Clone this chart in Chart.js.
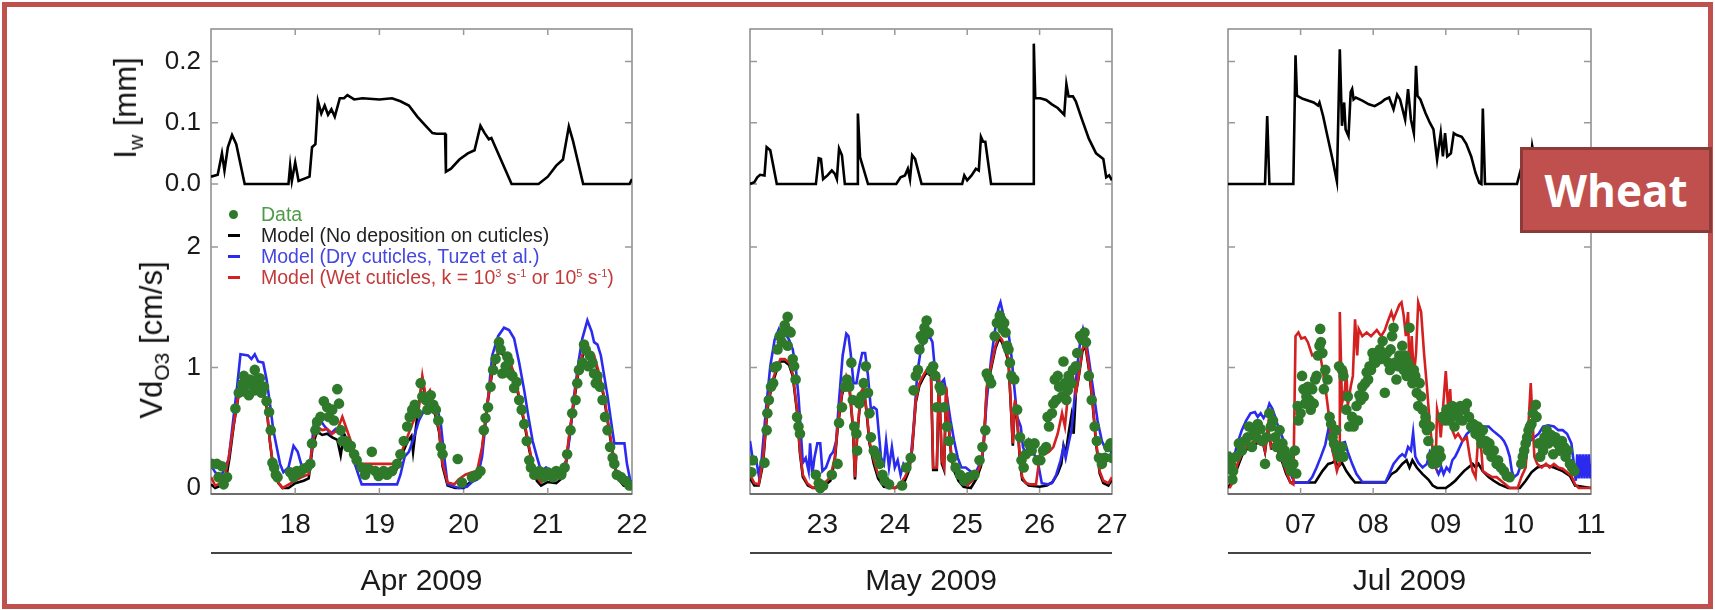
<!DOCTYPE html>
<html>
<head>
<meta charset="utf-8">
<title>Wheat - leaf water and ozone deposition velocity</title>
<script src="https://cdn.jsdelivr.net/npm/chart.js@4.4.1/dist/chart.umd.min.js"></script>
<style>
  body { margin: 0; background: #fff; }
  #wrap { position: relative; width: 1715px; height: 610px; overflow: hidden; font-family: 'Liberation Sans', Arial, sans-serif; }
  #wrap canvas { position: absolute; left: 0; top: 0; }
  .frame { position: absolute; left: 2px; top: 2px; width: 1711px; height: 607px; border: 5px solid #c0504d; box-sizing: border-box; }
  .ytitle { position: absolute; transform: translate(-50%, -50%) rotate(-90deg); white-space: nowrap; font-size: 31px; color: #111; }
  .ytitle sub { font-size: 0.68em; }
  .legend { position: absolute; left: 224px; top: 204px; font-size: 19.5px; line-height: 21px; }
  .legend div { position: relative; height: 21px; padding-left: 37px; white-space: nowrap; }
  .legend i { position: absolute; left: 4px; top: 9px; width: 12px; height: 3px; }
  .legend i.dot { left: 5px; top: 6px; width: 9px; height: 9px; border-radius: 50%; }
  .legend sup { font-size: 11px; line-height: 0; }
  .tag { position: absolute; left: 1520px; top: 147px; width: 192px; height: 86px; box-sizing: border-box;
         background: #c0504d; border: 3px solid #8c3a38; color: #fff; font: bold 44px 'Open Sans', sans-serif;
         display: flex; align-items: center; justify-content: center; }
</style>
</head>
<body>
<div id="wrap">
  <div class="frame"></div>
  <div class="ytitle" style="left:128px; top:108px;">I<sub>w</sub> [mm]</div>
  <div class="ytitle" style="left:154px; top:340px;">Vd<sub>O3</sub> [cm/s]</div>
  <div class="legend">
    <div style="color:#4f9a48"><i class="dot" style="background:#2f7a2a"></i>Data</div>
    <div style="color:#222"><i style="background:#000"></i>Model (No deposition on cuticles)</div>
    <div style="color:#4646e0"><i style="background:#2b2bf0"></i>Model (Dry cuticles, Tuzet et al.)</div>
    <div style="color:#c43a3a"><i style="background:#d42020"></i>Model (Wet cuticles, k = 10<sup>3</sup> s<sup>-1</sup> or 10<sup>5</sup> s<sup>-1</sup>)</div>
  </div>
  <div class="tag">Wheat</div>
</div>
<script>
// ---- leaf water film I_w [mm] and ozone deposition velocity [cm/s], [day, value] ----

const aprIw = [[17.0,0.012],[17.08,0.015],[17.13,0.05],[17.16,0.022],[17.2,0.06],[17.25,0.08],[17.3,0.065],[17.4,0],[17.92,0],[17.94,0.03],[17.96,0.005],[18.0,0.035],[18.04,0.005],[18.17,0.012],[18.2,0.06],[18.24,0.065],[18.27,0.135],[18.31,0.115],[18.35,0.128],[18.39,0.113],[18.43,0.122],[18.47,0.11],[18.53,0.14],[18.58,0.14],[18.62,0.145],[18.7,0.138],[18.8,0.14],[19.0,0.138],[19.15,0.14],[19.25,0.135],[19.35,0.128],[19.45,0.11],[19.55,0.095],[19.63,0.083],[19.68,0.082],[19.78,0.082],[19.79,0.02],[19.85,0.025],[19.95,0.04],[20.05,0.05],[20.13,0.055],[20.2,0.095],[20.25,0.083],[20.3,0.073],[20.33,0.075],[20.57,0],[20.89,0],[21.0,0.012],[21.1,0.03],[21.18,0.04],[21.25,0.094],[21.3,0.07],[21.42,0],[21.97,0],[22.0,0.008]];

const aprBlack = [[17.0,0.03],[17.05,0],[17.12,0.02],[17.18,0.08],[17.22,0.25],[17.27,0.52],[17.33,0.78],[17.39,0.86],[17.45,0.85],[17.5,0.89],[17.56,0.83],[17.62,0.79],[17.66,0.67],[17.7,0.38],[17.74,0.16],[17.8,0.04],[17.85,0],[17.92,0],[18.0,0.04],[18.1,0.06],[18.16,0.08],[18.21,0.36],[18.26,0.47],[18.32,0.44],[18.38,0.45],[18.44,0.42],[18.5,0.4],[18.54,0.27],[18.58,0.45],[18.64,0.36],[18.72,0.22],[18.76,0.15],[19.2,0.15],[19.27,0.28],[19.33,0.38],[19.38,0.43],[19.4,0.3],[19.45,0.6],[19.51,0.9],[19.55,0.74],[19.6,0.79],[19.65,0.65],[19.71,0.46],[19.75,0.18],[19.81,0.02],[19.9,0],[20.0,0],[20.08,0.05],[20.16,0.08],[20.22,0.32],[20.28,0.68],[20.34,0.96],[20.42,1.13],[20.48,1.1],[20.54,1.05],[20.6,0.93],[20.66,0.74],[20.72,0.54],[20.77,0.35],[20.82,0.18],[20.87,0.06],[20.92,0.02],[21.0,0.05],[21.1,0.04],[21.2,0.1],[21.25,0.4],[21.31,0.71],[21.37,0.99],[21.43,1.13],[21.49,1.1],[21.55,1.08],[21.61,0.93],[21.67,0.74],[21.72,0.51],[21.77,0.29],[21.82,0.09],[21.9,0.02],[22.0,0.01]];

const aprBlue = [[17.0,0.19],[17.05,0.13],[17.11,0.09],[17.17,0.17],[17.21,0.24],[17.25,0.48],[17.31,0.84],[17.35,1.11],[17.44,1.1],[17.48,1.07],[17.52,1.11],[17.56,1.05],[17.62,1.04],[17.66,0.9],[17.7,0.7],[17.74,0.48],[17.78,0.34],[17.82,0.2],[17.86,0.13],[17.92,0.17],[17.98,0.35],[18.03,0.3],[18.07,0.2],[18.12,0.17],[18.18,0.2],[18.22,0.53],[18.27,0.59],[18.34,0.52],[18.42,0.45],[18.48,0.49],[18.54,0.45],[18.6,0.39],[18.68,0.26],[18.75,0.11],[18.79,0.03],[19.21,0.03],[19.25,0.11],[19.3,0.26],[19.35,0.3],[19.41,0.42],[19.47,0.56],[19.55,0.67],[19.61,0.72],[19.68,0.69],[19.73,0.53],[19.77,0.26],[19.81,0.03],[19.94,0],[20.04,0.01],[20.1,0.05],[20.16,0.07],[20.22,0.26],[20.28,0.67],[20.34,1.1],[20.41,1.26],[20.48,1.33],[20.54,1.31],[20.6,1.24],[20.66,1.04],[20.72,0.81],[20.77,0.59],[20.82,0.39],[20.87,0.26],[20.92,0.14],[20.98,0.17],[21.04,0.13],[21.1,0.16],[21.16,0.14],[21.22,0.23],[21.26,0.42],[21.31,0.76],[21.37,1.07],[21.41,1.24],[21.47,1.39],[21.52,1.3],[21.55,1.21],[21.59,1.19],[21.63,1.1],[21.67,0.93],[21.71,0.76],[21.75,0.56],[21.79,0.37],[21.91,0.37],[21.94,0.2],[21.98,0.06],[22.0,0.05]];

const aprRed = [[17.0,0.09],[17.05,0.02],[17.11,0.04],[17.17,0.11],[17.21,0.25],[17.27,0.53],[17.33,0.79],[17.39,0.87],[17.45,0.86],[17.5,0.9],[17.56,0.84],[17.62,0.8],[17.66,0.68],[17.7,0.39],[17.74,0.17],[17.8,0.045],[17.85,0],[17.9,0.02],[17.96,0.045],[18.02,0.07],[18.08,0.09],[18.16,0.115],[18.21,0.39],[18.26,0.51],[18.32,0.48],[18.38,0.49],[18.44,0.45],[18.5,0.48],[18.56,0.59],[18.6,0.51],[18.66,0.39],[18.72,0.26],[18.76,0.2],[19.21,0.2],[19.27,0.31],[19.33,0.42],[19.39,0.53],[19.47,0.67],[19.51,0.93],[19.55,0.76],[19.6,0.81],[19.65,0.67],[19.71,0.48],[19.75,0.2],[19.81,0.045],[19.89,0.03],[19.94,0.07],[20.02,0.11],[20.1,0.13],[20.16,0.14],[20.22,0.34],[20.28,0.7],[20.34,0.98],[20.42,1.15],[20.48,1.12],[20.54,1.07],[20.6,0.95],[20.66,0.76],[20.72,0.56],[20.77,0.37],[20.82,0.2],[20.87,0.09],[20.92,0.045],[20.98,0.09],[21.06,0.06],[21.14,0.09],[21.2,0.14],[21.25,0.42],[21.31,0.73],[21.37,1.01],[21.43,1.15],[21.49,1.12],[21.55,1.1],[21.61,0.95],[21.67,0.76],[21.72,0.53],[21.77,0.31],[21.82,0.11],[21.89,0.045],[21.95,0.02],[22.0,0.03]];

const aprDots = [[17.01,0.2],[17.07,0.2],[17.13,0.18],[17.09,0.09],[17.15,0.03],[17.19,0.09],[17.29,0.66],[17.33,0.79],[17.37,0.86],[17.39,0.93],[17.4,0.8],[17.42,0.87],[17.45,0.77],[17.46,0.9],[17.48,0.86],[17.52,0.98],[17.52,0.81],[17.54,0.9],[17.56,0.83],[17.58,0.91],[17.6,0.79],[17.63,0.84],[17.66,0.72],[17.69,0.63],[17.71,0.48],[17.73,0.21],[17.75,0.17],[17.77,0.11],[17.79,0.09],[17.94,0.13],[17.98,0.09],[18.02,0.14],[18.06,0.13],[18.1,0.16],[18.14,0.17],[18.18,0.2],[18.2,0.37],[18.24,0.48],[18.26,0.55],[18.3,0.59],[18.34,0.72],[18.38,0.67],[18.4,0.59],[18.44,0.65],[18.46,0.56],[18.5,0.82],[18.52,0.7],[18.54,0.48],[18.56,0.39],[18.6,0.39],[18.63,0.34],[18.66,0.35],[18.7,0.28],[18.73,0.23],[18.79,0.17],[18.83,0.11],[18.87,0.16],[18.91,0.3],[18.95,0.14],[18.99,0.1],[19.05,0.14],[19.09,0.11],[19.15,0.14],[19.21,0.2],[19.25,0.28],[19.29,0.39],[19.33,0.51],[19.36,0.59],[19.39,0.65],[19.42,0.69],[19.45,0.62],[19.49,0.87],[19.51,0.76],[19.55,0.73],[19.57,0.65],[19.61,0.77],[19.64,0.69],[19.67,0.65],[19.7,0.56],[19.73,0.34],[19.75,0.28],[19.93,0.24],[19.98,0.045],[20.1,0.09],[20.16,0.11],[20.2,0.14],[20.24,0.48],[20.26,0.58],[20.29,0.67],[20.32,0.84],[20.35,0.98],[20.38,1.07],[20.42,1.21],[20.44,1.15],[20.46,0.95],[20.5,1.01],[20.52,1.09],[20.54,1.05],[20.55,0.95],[20.58,0.93],[20.6,0.83],[20.63,0.88],[20.66,0.73],[20.69,0.65],[20.72,0.53],[20.75,0.39],[20.78,0.23],[20.8,0.17],[20.84,0.11],[20.9,0.14],[20.95,0.09],[21.0,0.13],[21.06,0.09],[21.1,0.14],[21.16,0.11],[21.2,0.17],[21.23,0.28],[21.27,0.48],[21.29,0.62],[21.33,0.73],[21.35,0.87],[21.37,0.98],[21.41,1.04],[21.43,1.19],[21.45,1.15],[21.48,1.01],[21.5,1.1],[21.53,1.04],[21.55,0.95],[21.57,0.87],[21.59,0.93],[21.62,0.84],[21.65,0.73],[21.68,0.59],[21.71,0.48],[21.74,0.34],[21.77,0.25],[21.79,0.2],[21.82,0.11],[21.87,0.09],[21.92,0.06],[21.97,0.02]];

const mayIw = [[22.0,0],[22.06,0.003],[22.1,0.011],[22.14,0.015],[22.2,0.014],[22.23,0.06],[22.28,0.055],[22.37,0],[22.91,0],[22.95,0.042],[22.98,0.041],[23.01,0.008],[23.07,0.014],[23.13,0.022],[23.17,0.017],[23.2,0.008],[23.23,0.058],[23.27,0.047],[23.31,0],[23.48,0],[23.49,0.115],[23.52,0.044],[23.63,0],[24.02,0],[24.08,0.011],[24.14,0.014],[24.18,0.025],[24.21,0.008],[24.24,0.047],[24.28,0.041],[24.37,0],[24.93,0],[24.96,0.014],[25.0,0.006],[25.06,0.014],[25.12,0.025],[25.16,0.022],[25.19,0.077],[25.22,0.069],[25.25,0.069],[25.33,0],[25.91,0],[25.92,0.229],[25.94,0.14],[26.01,0.14],[26.09,0.137],[26.17,0.13],[26.25,0.124],[26.34,0.113],[26.37,0.163],[26.4,0.143],[26.46,0.143],[26.5,0.135],[26.58,0.107],[26.68,0.074],[26.78,0.05],[26.88,0.041],[26.92,0.011],[26.96,0.014],[27.0,0.006]];

const mayBlack = [[22.0,0.08],[22.06,0.02],[22.12,0.02],[22.18,0.2],[22.24,0.65],[22.3,0.85],[22.36,0.96],[22.42,1.05],[22.48,1.05],[22.54,1.02],[22.59,0.93],[22.65,0.63],[22.69,0.29],[22.73,0.09],[22.8,0.02],[22.87,0],[22.95,0],[23.03,0.02],[23.11,0.06],[23.17,0.22],[23.21,0.49],[23.27,0.77],[23.33,0.91],[23.37,0.85],[23.42,0.51],[23.45,0.07],[23.48,0.43],[23.53,0.77],[23.57,0.82],[23.61,0.63],[23.65,0.37],[23.71,0.2],[23.77,0.08],[23.85,0.01],[24.0,0],[24.08,0.02],[24.14,0.06],[24.2,0.15],[24.24,0.32],[24.29,0.71],[24.34,0.85],[24.39,0.91],[24.44,0.96],[24.5,0.93],[24.53,0.15],[24.58,0.15],[24.61,0.9],[24.65,0.2],[24.68,0.15],[24.71,0.82],[24.74,0.54],[24.78,0.26],[24.82,0.14],[24.88,0.06],[24.95,0.01],[25.05,0],[25.13,0.08],[25.19,0.18],[25.23,0.37],[25.27,0.82],[25.33,0.99],[25.39,1.16],[25.44,1.24],[25.48,1.21],[25.53,1.13],[25.57,1.05],[25.6,0.71],[25.63,0.35],[25.66,0.71],[25.69,0.57],[25.73,0.21],[25.76,0.07],[25.85,0.02],[26.0,0.01],[26.1,0.02],[26.18,0.05],[26.25,0.12],[26.3,0.2],[26.33,0.35],[26.36,0.28],[26.4,0.45],[26.44,0.6],[26.47,0.45],[26.5,0.78],[26.54,0.92],[26.59,1.13],[26.63,1.19],[26.68,0.99],[26.73,0.71],[26.78,0.37],[26.83,0.12],[26.88,0.04],[26.95,0.02],[27.0,0.07]];

const mayBlue = [[22.0,0.39],[22.04,0.23],[22.08,0.25],[22.12,0.11],[22.16,0.23],[22.22,0.65],[22.28,1.01],[22.34,1.23],[22.4,1.32],[22.44,1.26],[22.48,1.29],[22.54,1.23],[22.59,1.15],[22.63,1.01],[22.67,0.76],[22.71,0.39],[22.73,0.21],[22.77,0.25],[22.81,0.14],[22.83,0.37],[22.86,0.11],[22.89,0.25],[22.93,0.37],[22.97,0.37],[23.0,0.14],[23.05,0.17],[23.11,0.27],[23.15,0.3],[23.19,0.39],[23.23,0.73],[23.28,1.1],[23.33,1.28],[23.36,1.26],[23.39,1.12],[23.43,0.87],[23.47,0.87],[23.51,1.01],[23.55,1.12],[23.59,1.12],[23.63,0.93],[23.67,0.65],[23.71,0.67],[23.75,0.65],[23.78,0.45],[23.81,0.25],[23.85,0.2],[23.88,0.39],[23.92,0.17],[23.96,0.34],[24.0,0.17],[24.04,0.23],[24.08,0.11],[24.12,0.2],[24.16,0.17],[24.22,0.25],[24.26,0.51],[24.31,0.95],[24.36,1.15],[24.42,1.23],[24.48,1.26],[24.52,1.21],[24.55,1.01],[24.59,0.87],[24.64,0.87],[24.68,0.9],[24.72,0.76],[24.77,0.56],[24.82,0.39],[24.87,0.25],[24.92,0.17],[24.98,0.17],[25.04,0.14],[25.1,0.11],[25.15,0.17],[25.21,0.25],[25.27,0.73],[25.33,1.07],[25.38,1.29],[25.43,1.49],[25.46,1.54],[25.49,1.46],[25.53,1.32],[25.57,1.29],[25.61,1.1],[25.65,0.84],[25.69,0.59],[25.74,0.51],[25.77,0.34],[25.81,0.28],[25.85,0.39],[25.9,0.31],[25.95,0.25],[25.99,0.17],[26.03,0.04],[26.11,0.03],[26.17,0.04],[26.23,0.11],[26.29,0.23],[26.33,0.34],[26.36,0.25],[26.4,0.37],[26.44,0.48],[26.48,0.73],[26.52,1.01],[26.56,1.21],[26.6,1.32],[26.64,1.23],[26.68,1.07],[26.72,0.9],[26.76,0.73],[26.8,0.56],[26.86,0.39],[26.92,0.31],[26.98,0.34],[27.0,0.25]];

const mayRed = [[22.0,0.11],[22.06,0.04],[22.12,0.03],[22.18,0.23],[22.24,0.67],[22.3,0.87],[22.36,0.98],[22.42,1.07],[22.48,1.07],[22.54,1.04],[22.59,0.95],[22.65,0.65],[22.69,0.31],[22.73,0.11],[22.79,0.04],[22.87,0],[22.95,0.02],[23.03,0.04],[23.11,0.09],[23.17,0.25],[23.21,0.51],[23.27,0.79],[23.33,0.93],[23.37,0.87],[23.42,0.53],[23.45,0.09],[23.48,0.45],[23.53,0.79],[23.57,0.84],[23.61,0.65],[23.65,0.39],[23.71,0.23],[23.77,0.11],[23.85,0.04],[23.92,0],[24.0,0],[24.08,0.04],[24.14,0.09],[24.2,0.17],[24.24,0.34],[24.29,0.73],[24.34,0.87],[24.39,0.93],[24.44,0.98],[24.5,0.95],[24.53,0.17],[24.58,0.17],[24.61,0.93],[24.65,0.23],[24.68,0.17],[24.71,0.84],[24.74,0.56],[24.78,0.28],[24.82,0.17],[24.88,0.09],[24.94,0.04],[25.0,0.02],[25.07,0.06],[25.13,0.11],[25.19,0.2],[25.23,0.39],[25.27,0.84],[25.33,1.01],[25.39,1.18],[25.44,1.26],[25.48,1.23],[25.53,1.15],[25.57,1.07],[25.6,0.73],[25.63,0.37],[25.66,0.73],[25.69,0.59],[25.73,0.23],[25.76,0.09],[25.81,0.04],[25.87,0.03],[25.95,0.03],[26.01,0.3],[26.07,0.28],[26.13,0.3],[26.19,0.34],[26.25,0.45],[26.31,0.62],[26.35,0.51],[26.38,0.7],[26.42,0.87],[26.46,0.93],[26.5,0.79],[26.54,0.93],[26.59,1.15],[26.63,1.21],[26.68,1.01],[26.73,0.73],[26.78,0.39],[26.83,0.14],[26.88,0.06],[26.95,0.04],[27.0,0.09]];

const mayDots = [[22.02,0.13],[22.04,0.23],[22.2,0.21],[22.23,0.48],[22.24,0.62],[22.26,0.73],[22.29,0.84],[22.32,0.87],[22.34,1.0],[22.37,1.01],[22.38,1.15],[22.41,1.26],[22.44,1.21],[22.46,1.29],[22.48,1.35],[22.52,1.42],[22.54,1.3],[22.56,1.29],[22.52,1.18],[22.59,1.07],[22.61,1.01],[22.63,0.9],[22.65,0.59],[22.67,0.51],[22.69,0.45],[22.91,0.11],[22.95,0.04],[22.97,0],[23.01,0.02],[23.13,0.11],[23.21,0.2],[23.23,0.54],[23.27,0.67],[23.31,0.84],[23.34,0.9],[23.37,0.84],[23.4,1.04],[23.42,0.73],[23.44,0.51],[23.47,0.45],[23.48,0.31],[23.51,0.7],[23.54,0.76],[23.57,0.87],[23.6,1.01],[23.63,0.79],[23.65,0.62],[23.67,0.42],[23.71,0.31],[23.75,0.27],[23.79,0.2],[23.83,0.11],[23.86,0.06],[23.92,0.03],[24.1,0.02],[24.16,0.17],[24.22,0.25],[24.26,0.81],[24.29,0.93],[24.32,0.98],[24.34,1.15],[24.36,1.26],[24.39,1.23],[24.41,1.33],[24.44,1.39],[24.47,1.29],[24.5,0.98],[24.53,1.01],[24.56,0.93],[24.58,0.67],[24.62,0.84],[24.64,0.81],[24.68,0.67],[24.72,0.51],[24.75,0.39],[24.79,0.25],[24.84,0.17],[24.9,0.11],[24.96,0.06],[25.02,0.09],[25.1,0.11],[25.17,0.23],[25.21,0.34],[25.25,0.48],[25.27,0.95],[25.3,0.91],[25.33,0.87],[25.38,1.26],[25.41,1.37],[25.45,1.43],[25.47,1.4],[25.49,1.32],[25.51,1.37],[25.53,1.29],[25.55,1.18],[25.57,1.15],[25.59,1.04],[25.61,0.93],[25.65,0.9],[25.69,0.65],[25.73,0.42],[25.75,0.23],[25.78,0.17],[25.81,0.28],[25.85,0.37],[25.89,0.31],[25.93,0.37],[25.97,0.23],[26.01,0.23],[26.05,0.31],[26.09,0.34],[26.11,0.59],[26.13,0.51],[26.17,0.62],[26.19,0.7],[26.21,0.9],[26.23,0.73],[26.25,0.93],[26.27,0.84],[26.31,0.76],[26.33,1.05],[26.35,0.87],[26.37,0.73],[26.39,0.81],[26.4,0.93],[26.44,0.87],[26.46,0.98],[26.5,1.01],[26.52,1.12],[26.56,1.26],[26.59,1.23],[26.62,1.29],[26.64,1.21],[26.68,0.93],[26.72,0.73],[26.76,0.51],[26.79,0.39],[26.82,0.25],[26.86,0.2],[26.9,0.25],[26.95,0.34],[26.98,0.37],[27.0,0.25]];

const julIw = [[6.0,0],[6.51,0],[6.54,0.111],[6.57,0],[6.9,0],[6.93,0.21],[6.95,0.144],[7.03,0.139],[7.11,0.136],[7.18,0.133],[7.24,0.128],[7.26,0.133],[7.31,0.111],[7.37,0.078],[7.44,0.04],[7.5,0.004],[7.54,0.22],[7.57,0.095],[7.6,0.133],[7.62,0.089],[7.66,0.078],[7.69,0.15],[7.71,0.155],[7.73,0.138],[7.76,0.141],[7.85,0.136],[7.94,0.13],[8.02,0.127],[8.11,0.133],[8.16,0.138],[8.22,0.141],[8.28,0.122],[8.33,0.146],[8.37,0.138],[8.44,0.105],[8.48,0.155],[8.52,0.105],[8.56,0.083],[8.59,0.193],[8.61,0.144],[8.65,0.138],[8.72,0.116],[8.78,0.1],[8.83,0.089],[8.88,0.04],[8.93,0.083],[8.96,0.045],[8.99,0.083],[9.02,0.045],[9.07,0.05],[9.11,0.083],[9.15,0.08],[9.22,0.077],[9.28,0.066],[9.35,0.045],[9.41,0.018],[9.46,0.002],[9.49,0],[9.51,0.123],[9.54,0],[9.98,0],[10.02,0.018],[10.06,0.035],[10.11,0.013],[10.15,0.01],[10.19,0.062],[10.24,0.03],[10.3,0],[11.0,0]];

const julBlack = [[6.0,0],[6.05,0.05],[6.1,0.12],[6.15,0.2],[6.2,0.28],[6.3,0.35],[6.4,0.37],[6.47,0.4],[6.51,0.3],[6.55,0.48],[6.6,0.33],[6.65,0.35],[6.7,0.29],[6.75,0.21],[6.8,0.12],[6.86,0.045],[7.2,0.045],[7.3,0.14],[7.38,0.2],[7.44,0.21],[7.48,0.23],[7.51,0.17],[7.57,0.21],[7.63,0.14],[7.69,0.09],[7.75,0.045],[8.17,0.045],[8.25,0.115],[8.32,0.14],[8.4,0.2],[8.46,0.23],[8.5,0.17],[8.54,0.23],[8.6,0.17],[8.68,0.115],[8.76,0.07],[8.82,0.02],[8.88,0],[9.0,0],[9.07,0.03],[9.13,0.06],[9.19,0.1],[9.25,0.14],[9.31,0.17],[9.37,0.2],[9.41,0.17],[9.45,0.2],[9.51,0.14],[9.59,0.09],[9.66,0.06],[9.74,0.03],[9.86,0],[10.02,0],[10.1,0.06],[10.18,0.13],[10.26,0.17],[10.38,0.19],[10.49,0.17],[10.61,0.14],[10.71,0.1],[10.78,0.02],[11.0,0]];

const julBlue = [[6.02,0.115],[6.04,0.28],[6.08,0.25],[6.13,0.37],[6.19,0.48],[6.25,0.56],[6.31,0.62],[6.37,0.63],[6.41,0.59],[6.45,0.62],[6.49,0.58],[6.53,0.62],[6.57,0.7],[6.61,0.66],[6.65,0.59],[6.69,0.51],[6.73,0.45],[6.77,0.39],[6.8,0.31],[6.84,0.2],[6.88,0.09],[6.92,0.045],[7.1,0.045],[7.16,0.09],[7.22,0.17],[7.28,0.26],[7.34,0.36],[7.38,0.48],[7.44,0.31],[7.48,0.24],[7.51,0.31],[7.55,0.37],[7.61,0.38],[7.65,0.3],[7.71,0.2],[7.77,0.115],[7.85,0.05],[8.17,0.05],[8.22,0.115],[8.28,0.2],[8.32,0.23],[8.36,0.26],[8.4,0.28],[8.44,0.26],[8.48,0.34],[8.52,0.31],[8.55,0.46],[8.58,0.26],[8.62,0.21],[8.68,0.17],[8.74,0.2],[8.78,0.3],[8.82,0.26],[8.86,0.17],[8.9,0.115],[8.94,0.17],[8.97,0.115],[9.01,0.17],[9.05,0.14],[9.09,0.23],[9.13,0.26],[9.17,0.31],[9.23,0.39],[9.29,0.45],[9.35,0.48],[9.41,0.48],[9.47,0.51],[9.53,0.51],[9.59,0.51],[9.64,0.48],[9.7,0.45],[9.76,0.42],[9.8,0.39],[9.84,0.34],[9.88,0.26],[9.91,0.14],[9.94,0.09],[9.99,0.115],[10.04,0.2],[10.1,0.31],[10.16,0.39],[10.22,0.42],[10.28,0.45],[10.34,0.51],[10.41,0.52],[10.49,0.51],[10.55,0.48],[10.61,0.48],[10.67,0.45],[10.73,0.37],[10.77,0.17],[10.79,0.06],[10.81,0.28],[10.83,0.08],[10.85,0.28],[10.87,0.08],[10.89,0.28],[10.91,0.08],[10.93,0.28],[10.95,0.08],[10.97,0.28],[10.99,0.08],[11.0,0.2]];

const julRed = [[6.02,0],[6.05,0.03],[6.1,0.115],[6.13,0.2],[6.19,0.28],[6.25,0.34],[6.31,0.37],[6.37,0.39],[6.43,0.37],[6.47,0.42],[6.51,0.31],[6.55,0.51],[6.59,0.34],[6.63,0.37],[6.69,0.31],[6.75,0.23],[6.8,0.14],[6.86,0.045],[6.9,0.03],[6.93,1.26],[6.97,1.29],[7.01,1.24],[7.06,1.25],[7.1,1.21],[7.16,1.1],[7.22,1.11],[7.28,1.07],[7.34,0.84],[7.38,0.65],[7.44,0.31],[7.5,0.14],[7.53,0.2],[7.54,1.46],[7.57,0.7],[7.61,0.82],[7.63,0.98],[7.65,0.68],[7.69,0.84],[7.72,0.93],[7.75,1.4],[7.78,1.1],[7.8,1.32],[7.85,1.26],[7.91,1.29],[7.97,1.26],[8.05,1.31],[8.11,1.26],[8.16,1.31],[8.2,1.38],[8.25,1.46],[8.28,1.4],[8.32,1.46],[8.36,1.52],[8.39,1.54],[8.42,1.43],[8.45,1.26],[8.48,1.46],[8.5,0.9],[8.53,1.26],[8.56,0.93],[8.59,1.12],[8.62,1.54],[8.66,1.46],[8.7,1.12],[8.74,0.84],[8.78,0.53],[8.82,0.31],[8.86,0.2],[8.88,0.65],[8.91,0.56],[8.93,0.42],[8.96,0.65],[9.0,0.97],[9.03,0.68],[9.06,0.82],[9.09,0.48],[9.13,0.42],[9.17,0.45],[9.23,0.39],[9.29,0.42],[9.33,0.26],[9.37,0.14],[9.41,0.09],[9.45,0.45],[9.49,0.31],[9.51,0.14],[9.57,0.115],[9.64,0.09],[9.7,0.09],[9.76,0.06],[9.82,0.03],[9.88,0],[9.99,0],[10.04,0.09],[10.1,0.17],[10.13,0.42],[10.15,0.65],[10.17,0.87],[10.19,0.62],[10.22,0.26],[10.26,0.2],[10.32,0.17],[10.38,0.2],[10.43,0.17],[10.49,0.2],[10.55,0.17],[10.61,0.16],[10.67,0.13],[10.73,0.1],[10.78,0.03],[10.83,0],[11.0,0]];

const julDots = [[6.0,0.26],[6.04,0.2],[6.06,0.07],[6.07,0.14],[6.11,0.26],[6.15,0.37],[6.19,0.31],[6.23,0.39],[6.27,0.42],[6.29,0.51],[6.33,0.34],[6.35,0.48],[6.39,0.42],[6.41,0.53],[6.45,0.49],[6.47,0.39],[6.51,0.2],[6.53,0.42],[6.57,0.62],[6.59,0.51],[6.62,0.56],[6.65,0.42],[6.67,0.34],[6.71,0.48],[6.73,0.26],[6.75,0.37],[6.78,0.31],[6.82,0.2],[6.84,0.26],[6.87,0.14],[6.9,0.2],[6.92,0.31],[6.94,0.12],[6.96,0.68],[6.97,0.56],[7.0,0.62],[7.02,0.93],[7.04,0.82],[7.06,0.7],[7.08,0.76],[7.1,0.84],[7.12,0.73],[7.14,0.65],[7.16,0.82],[7.18,0.7],[7.2,0.9],[7.22,0.93],[7.24,1.1],[7.26,1.18],[7.27,1.32],[7.28,1.21],[7.3,1.12],[7.32,0.82],[7.34,0.98],[7.37,0.9],[7.4,0.59],[7.42,0.53],[7.44,0.42],[7.46,0.37],[7.49,0.48],[7.5,0.31],[7.53,0.26],[7.57,0.34],[7.59,0.26],[7.53,1.01],[7.57,0.98],[7.59,0.93],[7.63,0.65],[7.65,0.76],[7.67,0.51],[7.71,0.59],[7.73,0.51],[7.77,0.68],[7.79,0.56],[7.81,0.77],[7.83,0.73],[7.85,0.84],[7.87,0.76],[7.89,0.87],[7.91,0.96],[7.93,0.9],[7.95,1.01],[7.97,0.98],[7.99,1.12],[8.01,1.07],[8.03,1.04],[8.05,1.12],[8.07,1.1],[8.09,1.15],[8.11,1.07],[8.13,1.22],[8.15,1.1],[8.16,0.79],[8.19,1.12],[8.21,1.04],[8.23,0.98],[8.24,1.15],[8.26,1.26],[8.28,1.33],[8.3,1.04],[8.32,0.9],[8.34,1.01],[8.36,1.1],[8.38,1.04],[8.4,1.18],[8.42,0.98],[8.44,1.1],[8.46,0.93],[8.48,1.04],[8.5,1.33],[8.52,0.98],[8.54,0.87],[8.56,0.98],[8.58,0.93],[8.6,0.79],[8.62,0.68],[8.64,0.87],[8.66,0.76],[8.68,0.65],[8.7,0.53],[8.72,0.59],[8.74,0.48],[8.76,0.39],[8.78,0.51],[8.8,0.26],[8.82,0.2],[8.84,0.23],[8.86,0.31],[8.88,0.21],[8.91,0.31],[8.93,0.26],[8.95,0.59],[8.99,0.56],[9.01,0.65],[9.05,0.56],[9.07,0.62],[9.09,0.68],[9.12,0.51],[9.14,0.65],[9.17,0.59],[9.2,0.68],[9.23,0.56],[9.26,0.65],[9.29,0.7],[9.32,0.59],[9.35,0.51],[9.38,0.53],[9.41,0.45],[9.44,0.51],[9.47,0.42],[9.49,0.37],[9.51,0.48],[9.55,0.39],[9.58,0.31],[9.6,0.37],[9.63,0.26],[9.66,0.31],[9.7,0.2],[9.72,0.23],[9.76,0.17],[9.8,0.14],[9.84,0.1],[9.88,0.09],[10.04,0.2],[10.06,0.26],[10.08,0.31],[10.1,0.37],[10.12,0.42],[10.14,0.48],[10.16,0.51],[10.18,0.53],[10.2,0.62],[10.24,0.69],[10.25,0.59],[10.28,0.37],[10.3,0.26],[10.34,0.31],[10.36,0.42],[10.39,0.48],[10.41,0.37],[10.45,0.44],[10.48,0.28],[10.51,0.42],[10.54,0.37],[10.57,0.31],[10.6,0.39],[10.63,0.34],[10.65,0.26],[10.68,0.31],[10.71,0.2],[10.74,0.17],[10.77,0.14]];

const iwTicks = [0, 0.1, 0.2];
const vdTicks = [0, 1, 2];

// ---- layout ----
const W = 1715, H = 610;
const PLOT_TOP = 29, PLOT_BOTTOM = 494;
const IW_RANGE = [-0.5057, 0.2529];
const VD_RANGE = [-0.05, 3.809];
const FONT = "'Liberation Sans', Arial, sans-serif";
const YAXIS_W = 60;

const panels = [
  { left: 211, right: 632, min: 17, max: 22, month: 'Apr 2009', fmt: v => String(v), axes: true,
    iw: aprIw, black: aprBlack, blue: aprBlue, red: aprRed, dots: aprDots },
  { left: 690, right: 1112, min: 22, max: 27, month: 'May 2009', fmt: v => String(v), axes: false,
    iw: mayIw, black: mayBlack, blue: mayBlue, red: mayRed, dots: mayDots },
  { left: 1168, right: 1591, min: 6, max: 11, month: 'Jul 2009', fmt: v => String(v).padStart(2, '0'), axes: false,
    iw: julIw, black: julBlack, blue: julBlue, red: julRed, dots: julDots }
];

const pts = arr => arr.map(([x, y]) => ({ x, y }));

// both y axes share the full plot height, so an I_w value has a matching
// position on the Vd axis; the left axis carries both sets of labels
const iwToVd = v => VD_RANGE[0] + (v - IW_RANGE[0]) / (IW_RANGE[1] - IW_RANGE[0]) * (VD_RANGE[1] - VD_RANGE[0]);

// box around each panel, inward tick marks, and the rule above the month label
const panelFrame = {
  id: 'panelFrame',
  beforeDatasetsDraw(chart) {
    const { ctx, chartArea: a, scales } = chart;
    ctx.save();
    ctx.strokeStyle = '#8a8a8a';
    ctx.lineWidth = 1.5;
    ctx.strokeRect(a.left, a.top, a.right - a.left, a.bottom - a.top);
    ctx.strokeStyle = '#5a5a5a';
    ctx.beginPath();
    ctx.moveTo(a.left, a.bottom);
    ctx.lineTo(a.right, a.bottom);
    ctx.stroke();

    ctx.strokeStyle = '#999';
    ctx.lineWidth = 1.5;
    ctx.beginPath();
    for (let d = scales.x.min + 1; d < scales.x.max; d++) {
      const px = scales.x.getPixelForValue(d);
      ctx.moveTo(px, a.top); ctx.lineTo(px, a.top + 6);
      ctx.moveTo(px, a.bottom); ctx.lineTo(px, a.bottom - 6);
    }
    const yMarks = iwTicks.map(v => scales.yIw.getPixelForValue(v))
      .concat(vdTicks.slice(1).map(v => scales.yVd.getPixelForValue(v)));
    for (const py of yMarks) {
      ctx.moveTo(a.left, py); ctx.lineTo(a.left + 7, py);
      ctx.moveTo(a.right, py); ctx.lineTo(a.right - 7, py);
    }
    ctx.stroke();

    ctx.strokeStyle = '#444';
    ctx.lineWidth = 2;
    ctx.beginPath();
    ctx.moveTo(a.left, a.bottom + 59);
    ctx.lineTo(a.right, a.bottom + 59);
    ctx.stroke();
    ctx.restore();
  }
};

const wrap = document.getElementById('wrap');

function makePanel(p) {
  const cv = document.createElement('canvas');
  cv.width = W;
  cv.height = H;
  wrap.insertBefore(cv, wrap.querySelector('.ytitle'));

  const line = (data, color, axis, order) => ({
    data: pts(data), yAxisID: axis, borderColor: color, borderWidth: 2.6,
    pointRadius: 0, tension: 0, fill: false, order
  });

  new Chart(cv, {
    type: 'line',
    data: {
      datasets: [
        { data: pts(p.dots), yAxisID: 'yVd', showLine: false, pointRadius: 5.3,
          pointBackgroundColor: '#2f7a2a', pointBorderWidth: 0, order: 0 },
        line(p.red, '#d42020', 'yVd', 1),
        line(p.blue, '#2b2bf0', 'yVd', 2),
        line(p.black, '#000', 'yVd', 3),
        line(p.iw, '#000', 'yIw', 4)
      ]
    },
    options: {
      responsive: false,
      animation: false,
      devicePixelRatio: 1,
      layout: { padding: { left: p.axes ? p.left - YAXIS_W : p.left, right: W - p.right, top: PLOT_TOP, bottom: 0 } },
      plugins: { legend: { display: false }, tooltip: { enabled: false } },
      scales: {
        x: {
          type: 'linear', min: p.min, max: p.max,
          afterFit: s => { s.height = H - PLOT_BOTTOM; },
          grid: { display: false, drawTicks: false },
          border: { display: false },
          ticks: {
            stepSize: 1, autoSkip: false, maxRotation: 0, padding: 14,
            font: { size: 28, family: FONT }, color: '#1a1a1a',
            callback: v => (v === p.min ? '' : p.fmt(v))
          },
          title: {
            display: true, text: p.month, color: '#1a1a1a',
            font: { size: 30, family: FONT }, padding: { top: 0, bottom: 10 }
          }
        },
        yVd: {
          type: 'linear', position: 'left', display: p.axes,
          min: VD_RANGE[0], max: VD_RANGE[1],
          afterBuildTicks: s => {
            s.ticks = vdTicks.map(v => ({ value: v, text: String(v) }))
              .concat(iwTicks.map(v => ({ value: iwToVd(v), text: v.toFixed(1) })));
          },
          afterFit: s => { s.width = YAXIS_W; },
          grid: { display: false, drawTicks: false },
          border: { display: false },
          ticks: { autoSkip: false, padding: 10, font: { size: 26, family: FONT }, color: '#1a1a1a',
                   callback: (v, i, ticks) => ticks[i].text }
        },
        yIw: {
          type: 'linear', position: 'left', display: false,
          min: IW_RANGE[0], max: IW_RANGE[1]
        }
      }
    },
    plugins: [panelFrame]
  });
}

panels.forEach(makePanel);
</script>
</body>
</html>
